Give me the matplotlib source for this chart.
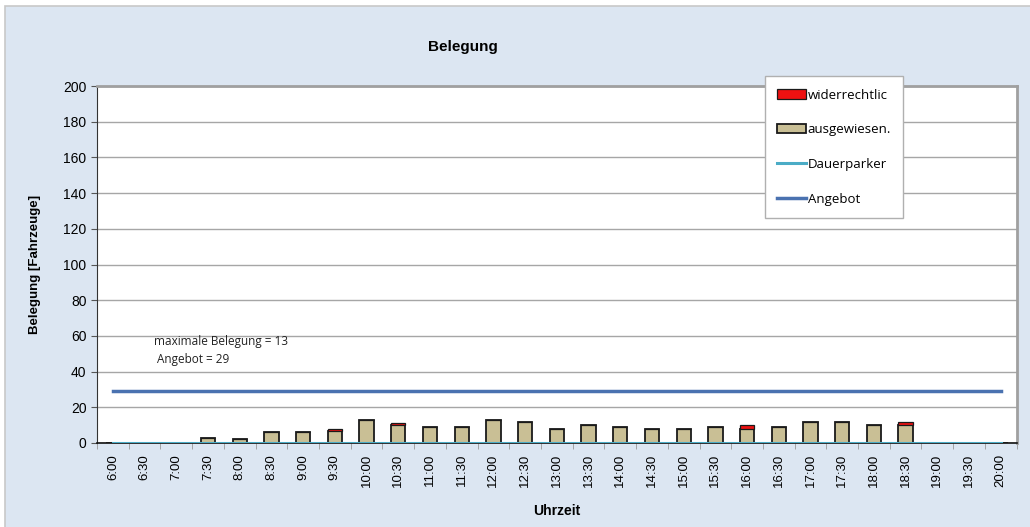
import matplotlib.pyplot as plt
from matplotlib.patches import FancyBboxPatch
import numpy as np

# Belegung je Zeitschnitt
zeiten = ["6:00", "6:30", "7:00", "7:30", "8:00", "8:30", "9:00", "9:30",
          "10:00", "10:30", "11:00", "11:30", "12:00", "12:30", "13:00", "13:30",
          "14:00", "14:30", "15:00", "15:30", "16:00", "16:30", "17:00", "17:30",
          "18:00", "18:30", "19:00", "19:30", "20:00"]
ausgewiesen = [0, 0, 0, 3, 2, 6, 6, 7, 13, 10, 9, 9, 13, 12, 8, 10,
               9, 8, 8, 9, 8, 9, 12, 12, 10, 10, 0, 0, 0]
widerrechtlich = [0, 0, 0, 0, 0, 0, 0, 1, 0, 1, 0, 0, 0, 0, 0, 0,
                  0, 0, 0, 0, 2, 0, 0, 0, 0, 2, 0, 0, 0]
dauerparker = [0] * 29
angebot = [29] * 29
max_belegung = 13

bg = "#dce6f2"
fig = plt.figure(figsize=(10.3, 5.27), dpi=100)
fig.patch.set_facecolor("white")
fig.patches.append(FancyBboxPatch((0.005, -0.02), 1.02, 1.008,
                                  boxstyle="square,pad=0", transform=fig.transFigure,
                                  facecolor=bg, edgecolor="#c8c8c8", linewidth=1.2,
                                  zorder=-1))

ax = fig.add_axes([0.0942, 0.1594, 0.8928, 0.6774])
ax.set_facecolor("white")

x = np.arange(len(zeiten))
b_ausg = ax.bar(x, ausgewiesen, width=0.45, color="#c9bf95", edgecolor="#1a1a1a",
                linewidth=1.3, zorder=3)
b_wid = ax.bar(x, widerrechtlich, width=0.45, bottom=ausgewiesen, color="#ee1111",
               edgecolor="#1a1a1a", linewidth=0.9, zorder=3)
l_dauer, = ax.plot(x, dauerparker, color="#4bacc6", linewidth=2.2, zorder=4)
l_ang, = ax.plot(x, angebot, color="#4a72b0", linewidth=2.5, zorder=4)

ax.set_xlim(-0.5, len(zeiten) - 0.5)
ax.set_ylim(0, 200)
ax.set_yticks(range(0, 201, 20))
ax.set_xticks(x)
ax.set_xticklabels(zeiten, rotation=90, fontsize=9.5, family="Liberation Sans")
ax.set_xticks(np.arange(-0.5, len(zeiten), 1), minor=True)
ax.tick_params(axis="x", which="major", length=0, pad=8)
ax.tick_params(axis="x", which="minor", length=4, color="#999999")
ax.tick_params(axis="y", length=4, color="#555555", labelsize=10)
for lbl in ax.get_yticklabels():
    lbl.set_family("Liberation Sans")

ax.grid(axis="y", color="#a6a6a6", linewidth=1, zorder=0)
ax.set_axisbelow(True)
ax.spines["left"].set_color("#333333")
ax.spines["bottom"].set_color("#111111")
ax.spines["bottom"].set_linewidth(1.2)
ax.spines["top"].set_color("#a0a0a0")
ax.spines["top"].set_linewidth(2)
ax.spines["right"].set_color("#a0a0a0")
ax.spines["right"].set_linewidth(2)

ax.set_ylabel("Belegung [Fahrzeuge]", fontsize=9.5, fontweight="bold",
              family="Liberation Sans", labelpad=16)
ax.set_xlabel("Uhrzeit", fontsize=10, fontweight="bold", family="Liberation Sans",
              labelpad=12)
fig.text(0.449, 0.91, "Belegung", fontsize=11, fontweight="bold",
         family="Liberation Sans", ha="center", va="center")

ax.text(1.3, 57, "maximale Belegung = %d" % max_belegung, fontsize=8.5,
        family="Open Sans", color="#222222", va="center")
ax.text(1.4, 47, "Angebot = %d" % angebot[0], fontsize=8.5,
        family="Open Sans", color="#222222", va="center")

leg = ax.legend([b_wid, b_ausg, l_dauer, l_ang],
                ["widerrechtlic", "ausgewiesen.", "Dauerparker", "Angebot"],
                loc="upper left", bbox_to_anchor=(0.726, 1.028),
                prop={"family": "Open Sans", "size": 9.5}, frameon=True,
                fancybox=False, edgecolor="#b0b0b0", framealpha=1,
                labelspacing=1.65, handlelength=2.2, handletextpad=0.1,
                borderpad=0.95, borderaxespad=0)
leg.get_frame().set_linewidth(1)
leg.set_zorder(6)

fig.savefig("out.png", dpi=100, facecolor=fig.get_facecolor())
